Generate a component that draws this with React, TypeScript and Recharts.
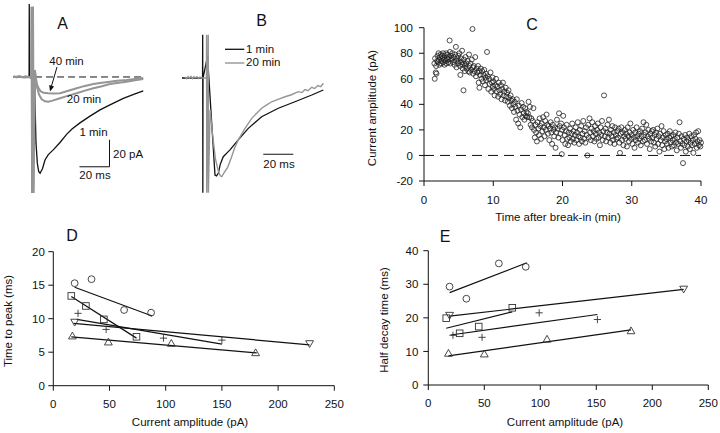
import React from 'react';
import {
    LineChart,
    Line,
    XAxis,
    YAxis,
    ReferenceLine,
    ScatterChart,
    Scatter,
    ComposedChart
} from 'recharts';

const FONT = '"Liberation Sans", Arial, Helvetica, sans-serif';
const INK = '#111';
const GRAY = '#959595';

// ---- A: currents at 1, 20 and 40 min (t in ms, pA) ----
const trA1: number[][] = [
    [-11, 0], [-6, 0.3], [-1, 0], [-0.6, 0], [-0.5, 54], [-0.3, 0], [3, -3], [4, -49], [4.9, -64],
    [5.8, -70], [6.7, -71.3], [8.3, -68], [10, -61.5], [12.2, -57.5], [15.5, -54], [20, -48.5],
    [24.4, -42.5], [28, -38.5], [33.3, -34], [40, -29], [46.7, -24.4], [53.3, -20.7], [62.2, -15.8],
    [70, -12.5], [75.5, -10.3]
];
const trA20: number[][] = [
    [-11, 0.5], [-9, -0.4], [-7, 0.6], [-5, -0.2], [-3, 0.5], [-1, 0], [0.9, 0], [1.1, 52], [1.4, -86],
    [2.0, 52], [2.3, -86], [3.2, 5], [4.5, -7], [6, -13], [7.8, -16.5], [10, -18], [12.2, -18.3],
    [15, -17.5], [20, -15.8], [25, -14], [31.1, -12.1], [36, -10.3], [42.2, -8.4], [48, -6.8],
    [53.3, -5.2], [58, -4.4], [64.4, -3.5], [70, -2.5], [75.5, -1.5]
];
const trA40: number[][] = [
    [-11, 0], [-8, 0.4], [-4, -0.3], [0.9, 0], [1.1, 52], [1.4, -86], [2.0, 52], [2.3, -86], [3.2, 5],
    [4.5, -5], [5.6, -8], [7, -10.5], [9, -11.7], [12.2, -12.1], [16, -12.3], [20, -12.1], [25, -10.4],
    [31.1, -8.4], [36, -6.8], [42.2, -5.2], [48, -4.2], [53.3, -3.5], [58, -2.8], [64.4, -2.2],
    [70, -1.5], [75.5, -0.8]
];

// ---- B: normalised currents, 1 min vs 20 min ----
const trB1: number[][] = [
    [-14, 0], [-0.3, 0], [-0.2, 32], [-0.1, -85], [0, 0], [3, 16], [8, -72], [9, -72.5],
    [10.2, -70.6], [11.5, -64], [13.5, -58.3], [16, -55.5], [18, -53.3], [23.5, -45.9], [30.2, -37.3],
    [39.1, -28.7], [50.2, -22.4], [61.3, -17.6], [72.5, -12.6], [80.2, -8.9]
];
const trB20: number[][] = [
    [-12, 0.8], [-11, -0.5], [-10, 1], [-9, 0], [-8, 1.2], [-7, -0.4], [-6, 0.9], [-5, 0.2], [-4, 1],
    [-3, -0.3], [-2, 0.7], [-1, 0], [2.3, 0], [2.4, 32], [2.5, -85], [3.5, 32], [3.6, -85], [4.7, -23.7],
    [6.7, -45], [8.3, -60], [10.2, -69], [11.5, -72.5], [12.5, -73.1], [14.2, -70], [16.5, -66],
    [19.1, -58.3], [21, -52], [23.5, -45.9], [28, -37.3], [32.5, -29.9], [36, -26], [39.1, -22.4],
    [42, -20.3], [45.8, -17.6], [50, -15.8], [54.7, -13.9], [59, -12.4], [63.5, -10.1], [66, -10.8],
    [68, -8.6], [70, -9.4], [72.5, -6.9], [74.5, -7.8], [76.5, -5.6], [78.5, -6.4], [80.2, -3.9]
];

// ---- C: amplitude vs time after break-in (min, pA) ----
const cAmp: number[][] = [
    [1.5, 72], [1.55, 60], [1.6, 76], [1.7, 65], [1.75, 70], [1.8, 64], [1.9, 74], [1.95, 78],
    [2.0, 73], [2.1, 80], [2.15, 75], [2.2, 71], [2.3, 77], [2.4, 79], [2.45, 74], [2.5, 72], [2.6, 78], [2.7, 76], [2.75, 80], [2.8, 73], [2.9, 75], [2.95, 71],
    [3.0, 78], [3.1, 74], [3.2, 80], [3.25, 72], [3.3, 76], [3.4, 79], [3.5, 75], [3.55, 73], [3.6, 77], [3.7, 90], [3.75, 81], [3.8, 72], [3.9, 78], [3.95, 75],
    [4.0, 76], [4.1, 80], [4.2, 73], [4.3, 77], [4.4, 71], [4.5, 79], [4.6, 85], [4.65, 74], [4.7, 69], [4.8, 76], [4.9, 72], [4.95, 78],
    [5.0, 74], [5.1, 80], [5.2, 70], [5.25, 63], [5.3, 76], [5.4, 73], [5.5, 82], [5.55, 71], [5.6, 68], [5.7, 51], [5.75, 75], [5.8, 72], [5.9, 66], [5.95, 70],
    [6.0, 77], [6.1, 72], [6.2, 68], [6.3, 74], [6.4, 66], [6.5, 79], [6.55, 70], [6.6, 65], [6.7, 72], [6.8, 67], [6.9, 75], [7.0, 99], [7.05, 69],
    [7.1, 64], [7.2, 70], [7.3, 66], [7.4, 77], [7.5, 62], [7.6, 68], [7.7, 65], [7.8, 70], [7.9, 57], [7.95, 66],
    [8.0, 53], [8.1, 63], [8.2, 68], [8.3, 60], [8.4, 66], [8.5, 58], [8.6, 63], [8.7, 67], [8.8, 55], [8.9, 61], [8.95, 64],
    [9.0, 59], [9.1, 81], [9.2, 62], [9.3, 52], [9.4, 60], [9.5, 56], [9.6, 65], [9.7, 50], [9.8, 57], [9.9, 61], [9.95, 54],
    [10.0, 58], [10.1, 52], [10.2, 47], [10.3, 55], [10.4, 60], [10.5, 50], [10.6, 54], [10.7, 46], [10.8, 57], [10.9, 51],
    [11.0, 48], [11.1, 55], [11.2, 44], [11.3, 52], [11.4, 57], [11.5, 47], [11.6, 50], [11.7, 43], [11.8, 53], [11.9, 46],
    [12.0, 49], [12.1, 42], [12.2, 51], [12.3, 45], [12.4, 39], [12.5, 47], [12.6, 43], [12.7, 37], [12.8, 44], [12.9, 40],
    [13.0, 34], [13.1, 42], [13.2, 38], [13.3, 28], [13.4, 44], [13.5, 35], [13.6, 25], [13.7, 39], [13.8, 32], [13.9, 22],
    [14.0, 36], [14.1, 41], [14.2, 30], [14.3, 38], [14.4, 33], [14.5, 28], [14.6, 37], [14.7, 31], [14.8, 34], [14.9, 30],
    [15.0, 33], [15.1, 42], [15.2, 30], [15.3, 38], [15.4, 24], [15.5, 29], [15.6, 22], [15.7, 27], [15.8, 37], [15.9, 20],
    [16.0, 14], [16.1, 24], [16.2, 18], [16.3, 11], [16.4, 26], [16.5, 21], [16.6, 16], [16.7, 29], [16.8, 23], [16.9, 13],
    [17.0, 25], [17.1, 19], [17.2, 30], [17.3, 22], [17.4, 15], [17.5, 27], [17.6, 20], [17.7, 32], [17.8, 24], [17.9, 17],
    [18.0, 23], [18.1, 12], [18.2, 21], [18.3, 26], [18.4, 18], [18.5, 9], [18.6, 24], [18.7, 20], [18.8, 15], [18.9, 22],
    [19.0, 6], [19.1, 18], [19.2, 28], [19.3, 21], [19.4, 14], [19.5, 33], [19.6, 23], [19.7, 17], [19.8, 25], [19.9, 1], [19.95, 20],
    [20.0, 12], [20.1, 31], [20.2, 22], [20.3, 16], [20.4, 9], [20.5, 19], [20.6, 24], [20.7, 13], [20.8, 8], [20.9, 18],
    [21.0, 14], [21.1, 21], [21.2, 11], [21.3, 17], [21.4, 25], [21.5, 13], [21.6, 19], [21.7, 10], [21.8, 16], [21.9, 22],
    [22.0, 12], [22.1, 18], [22.2, 26], [22.3, 15], [22.4, 9], [22.5, 20], [22.6, 14], [22.7, 23], [22.8, 11], [22.9, 17],
    [23.0, 27], [23.1, 13], [23.2, 19], [23.3, 10], [23.4, 22], [23.5, 16], [23.6, 0], [23.7, 24], [23.8, 14], [23.9, 29],
    [24.0, 18], [24.1, 12], [24.2, 21], [24.3, 26], [24.4, 15], [24.5, 19], [24.6, 11], [24.7, 23], [24.8, 17], [24.9, 13],
    [25.0, 20], [25.1, 25], [25.2, 14], [25.3, 18], [25.4, 8], [25.5, 22], [25.6, 16], [25.7, 27], [25.8, 12], [25.9, 19],
    [26.0, 47], [26.1, 15], [26.2, 21], [26.3, 11], [26.4, 18], [26.5, 24], [26.6, 14], [26.7, 28], [26.8, 17], [26.9, 10],
    [27.0, 20], [27.1, 15], [27.2, 23], [27.3, 12], [27.4, 18], [27.5, 9], [27.6, 22], [27.7, 16], [27.8, 13], [27.9, 19],
    [28.0, 14], [28.1, 21], [28.2, 10], [28.3, 2], [28.4, 17], [28.5, 22], [28.6, 12], [28.7, 18], [28.8, 8], [28.9, 15],
    [29.0, 20], [29.1, 13], [29.2, 17], [29.3, 7], [29.4, 22], [29.5, 15], [29.6, 11], [29.7, 18], [29.8, 25], [29.9, 13],
    [30.0, 16], [30.1, 9], [30.2, 20], [30.3, 14], [30.4, 6], [30.5, 18], [30.6, 12], [30.7, 22], [30.8, 15], [30.9, 10],
    [31.0, 17], [31.1, 13], [31.2, 19], [31.3, 8], [31.4, 15], [31.5, 21], [31.6, 11], [31.7, 26], [31.8, 16], [31.9, 12],
    [32.0, 18], [32.1, 24], [32.2, 9], [32.3, 15], [32.4, 20], [32.5, 13], [32.6, 5], [32.7, 17], [32.8, 11], [32.9, 19],
    [33.0, 14], [33.1, 20], [33.2, 10], [33.3, 16], [33.4, 7], [33.5, 18], [33.6, 13], [33.7, 21], [33.8, 9], [33.9, 15],
    [34.0, 3], [34.1, 17], [34.2, 12], [34.3, 23], [34.4, 8], [34.5, 14], [34.6, 19], [34.7, 5], [34.8, 11], [34.9, 16],
    [35.0, 13], [35.1, 9], [35.2, 17], [35.3, 6], [35.4, 14], [35.5, 19], [35.6, 10], [35.7, 15], [35.8, 7], [35.9, 12],
    [36.0, 16], [36.1, 8], [36.2, 13], [36.3, 18], [36.4, 10], [36.5, 4], [36.6, 14], [36.7, 9], [36.8, 17], [36.9, 26],
    [37.0, 11], [37.1, 6], [37.2, 15], [37.3, 9], [37.4, -6], [37.5, 13], [37.6, 8], [37.7, 16], [37.8, 3], [37.9, 11],
    [38.0, 14], [38.1, 7], [38.2, 12], [38.3, 17], [38.4, 5], [38.5, 10], [38.6, 15], [38.7, 8], [38.8, 12], [38.9, 2],
    [39.0, 16], [39.1, 9], [39.2, 13], [39.3, 18], [39.4, 6], [39.5, 11], [39.6, 19], [39.7, 8], [39.8, 12], [39.9, 7], [40.0, 10]
];
const cTicksX = [0, 10, 20, 30, 40];
const cTicksY = [-20, 0, 20, 40, 60, 80, 100];

// ---- D / E: per-cell points (amplitude pA, ms) and fitted line endpoints ----
const ampTicks = [0, 50, 100, 150, 200, 250];
const dTicksY = [0, 5, 10, 15, 20];
const eTicksY = [0, 10, 20, 30, 40];

const dCircle = [[19, 15.3], [34, 15.9], [63, 11.3], [87, 10.9]];
const dSquare = [[16, 13.4], [29, 11.9], [45, 9.9], [74, 7.3]];
const dPlus = [[22, 10.8], [47, 8.4], [98, 7.1], [150, 6.8]];
const dDown = [[19, 9.5], [228, 6.3]];
const dUp = [[17, 7.4], [49, 6.5], [105, 6.3], [180, 4.9]];
const dFits = [
    [[19, 14.7], [88, 10.4]],
    [[16, 13.3], [74, 7.1]],
    [[21, 9.9], [150, 6.2]],
    [[18, 9.3], [228, 6.1]],
    [[16, 7.3], [181, 4.9]]
];

const eCircle = [[19, 29.3], [34, 25.7], [63, 36.2], [87, 35.2]];
const eSquare = [[16, 19.9], [28, 15.4], [45, 17.4], [75, 23]];
const ePlus = [[22, 14.8], [48, 14.2], [99, 21.5], [151, 19.5]];
const eDown = [[19, 20.8], [228, 28.6]];
const eUp = [[18, 9.4], [50, 9.2], [106, 13.6], [181, 16.1]];
const eFits = [
    [[19, 27.5], [88, 36.4]],
    [[16, 16.9], [75, 21.8]],
    [[20, 14.9], [151, 21]],
    [[19, 20.5], [228, 28.5]],
    [[18, 8.7], [181, 16.4]]
];

const tv = (arr: number[][]) => arr.map(([t, v]) => ({ t, v }));
const xy = (arr: number[][]) => arr.map(([x, y]) => ({ x, y }));

const MK = '#333';
const ring = (p: any) => <circle cx={p.cx} cy={p.cy} r={2.5} fill="none" stroke="#222" strokeWidth={0.8} />;
const mCircle = (p: any) => <circle cx={p.cx} cy={p.cy} r={3.4} fill="none" stroke={MK} strokeWidth={0.9} />;
const mSquare = (p: any) => <rect x={p.cx - 3.3} y={p.cy - 3.3} width={6.6} height={6.6} fill="none" stroke={MK} strokeWidth={0.9} />;
const mPlus = (p: any) => (
    <path d={`M${p.cx - 3.6},${p.cy}H${p.cx + 3.6}M${p.cx},${p.cy - 3.6}V${p.cy + 3.6}`} stroke={MK} strokeWidth={0.9} />
);
const mUp = (p: any) => (
    <path d={`M${p.cx},${p.cy - 4}L${p.cx + 3.9},${p.cy + 2.8}L${p.cx - 3.9},${p.cy + 2.8}Z`} fill="none" stroke={MK} strokeWidth={0.9} />
);
const mDown = (p: any) => (
    <path d={`M${p.cx},${p.cy + 4}L${p.cx + 3.9},${p.cy - 2.8}L${p.cx - 3.9},${p.cy - 2.8}Z`} fill="none" stroke={MK} strokeWidth={0.9} />
);

const tickStyle = { fontSize: 11.5, fill: INK, fontFamily: FONT };
const axisStroke = { stroke: INK, strokeWidth: 1 };

const Txt: React.FC<{ x: number; y: number; size?: number; align?: 'left' | 'center'; rotate?: boolean; children: React.ReactNode }> = ({
    x, y, size = 11.5, align = 'center', rotate = false, children
}) => (
    <div
        style={{
            position: 'absolute',
            left: x,
            top: y,
            fontSize: size,
            lineHeight: 1,
            whiteSpace: 'nowrap',
            color: INK,
            fontFamily: FONT,
            transform: `translate(${align === 'center' ? '-50%' : '0'},-50%)${rotate ? ' rotate(-90deg)' : ''}`
        }}
    >
        {children}
    </div>
);

const Place: React.FC<{ left: number; top: number; children: React.ReactNode }> = ({ left, top, children }) => (
    <div style={{ position: 'absolute', left, top }}>{children}</div>
);

const AmpPanel: React.FC<{
    sets: number[][][];
    fits: number[][][];
    yMax: number;
    yTicks: number[];
    margin: { top: number; right: number; bottom: number; left: number };
    yTickMargin: number;
}> = ({ sets, fits, yMax, yTicks, margin, yTickMargin }) => {
    const shapes = [mCircle, mSquare, mPlus, mDown, mUp];
    return (
        <ComposedChart width={360} height={203} margin={margin}>
            <XAxis type="number" dataKey="x" domain={[0, 250]} ticks={ampTicks} interval={0} height={30}
                tickSize={5} tickMargin={9} tick={tickStyle} axisLine={axisStroke} tickLine={axisStroke} />
            <YAxis type="number" dataKey="y" domain={[0, yMax]} ticks={yTicks} interval={0} width={30}
                tickSize={5} tickMargin={yTickMargin} tick={tickStyle} axisLine={axisStroke} tickLine={axisStroke} />
            {fits.map((f, i) => (
                <Line key={'f' + i} data={xy(f)} dataKey="y" stroke={INK} strokeWidth={1.2} dot={false}
                    type="linear" isAnimationActive={false} />
            ))}
            {sets.map((s, i) => (
                <Scatter key={'s' + i} data={xy(s)} shape={shapes[i]} isAnimationActive={false} />
            ))}
        </ComposedChart>
    );
};

export default function App() {
    return (
        <div style={{ position: 'absolute', left: 0, top: 0, width: 720, height: 433, background: '#fff', overflow: 'hidden' }}>
            {/* A */}
            <Place left={0} top={0}>
                <LineChart width={180} height={200} margin={{ top: 0, right: 0, bottom: 0, left: 0 }}>
                    <XAxis type="number" dataKey="t" domain={[-20, 100]} hide allowDataOverflow />
                    <YAxis type="number" domain={[-91.1, 57]} hide allowDataOverflow />
                    <ReferenceLine segment={[{ x: -11.3, y: 0 }, { x: 75.5, y: 0 }]} stroke={INK} strokeDasharray="7 4" strokeWidth={1} />
                    <Line data={tv(trA1)} dataKey="v" stroke={INK} strokeWidth={1.3} dot={false} type="linear" isAnimationActive={false} />
                    <Line data={tv(trA20)} dataKey="v" stroke={GRAY} strokeWidth={2} dot={false} type="linear" isAnimationActive={false} />
                    <Line data={tv(trA40)} dataKey="v" stroke={GRAY} strokeWidth={2} dot={false} type="linear" isAnimationActive={false} />
                    <ReferenceLine segment={[{ x: 33, y: -66.5 }, { x: 53, y: -66.5 }]} stroke={INK} strokeWidth={1} />
                    <ReferenceLine segment={[{ x: 53, y: -66.5 }, { x: 53, y: -46.5 }]} stroke={INK} strokeWidth={1} />
                </LineChart>
            </Place>
            <svg style={{ position: 'absolute', left: 0, top: 0 }} width={120} height={120}>
                <line x1={57} y1={67} x2={51.5} y2={86} stroke={INK} strokeWidth={1} />
                <path d="M50,91.5L54.1,86.4L49.2,85Z" fill={INK} />
            </svg>
            <Txt x={62.5} y={24} size={16}>A</Txt>
            <Txt x={66.5} y={62}>40 min</Txt>
            <Txt x={84} y={100}>20 min</Txt>
            <Txt x={93.5} y={133}>1 min</Txt>
            <Txt x={113} y={155} align="left">20 pA</Txt>
            <Txt x={95} y={176}>20 ms</Txt>

            {/* B */}
            <Place left={180} top={0}>
                <LineChart width={160} height={200} margin={{ top: 0, right: 0, bottom: 0, left: 0 }}>
                    <XAxis type="number" dataKey="t" domain={[-15.33, 91.33]} hide allowDataOverflow />
                    <YAxis type="number" domain={[-90.4, 57.8]} hide allowDataOverflow />
                    <Line data={tv(trB1)} dataKey="v" stroke={INK} strokeWidth={1.3} dot={false} type="linear" isAnimationActive={false} />
                    <Line data={tv(trB20)} dataKey="v" stroke={GRAY} strokeWidth={1.4} dot={false} type="linear" isAnimationActive={false} />
                    <ReferenceLine segment={[{ x: 40.2, y: -56.5 }, { x: 60.2, y: -56.5 }]} stroke={INK} strokeWidth={1} />
                </LineChart>
            </Place>
            <svg style={{ position: 'absolute', left: 220, top: 40 }} width={30} height={30}>
                <line x1={5} y1={9.3} x2={24.3} y2={9.3} stroke={INK} strokeWidth={1.3} />
                <line x1={5} y1={23} x2={24.3} y2={23} stroke={GRAY} strokeWidth={1.4} />
            </svg>
            <Txt x={261.7} y={21} size={16}>B</Txt>
            <Txt x={246} y={50} align="left">1 min</Txt>
            <Txt x={246} y={63} align="left">20 min</Txt>
            <Txt x={279} y={165}>20 ms</Txt>

            {/* C */}
            <Place left={340} top={0}>
                <ScatterChart width={380} height={230} margin={{ top: 27.7, right: 19, bottom: 19, left: 44 }}>
                    <XAxis type="number" dataKey="x" domain={[0, 40]} ticks={cTicksX} interval={0} height={30}
                        tickSize={5} tickMargin={10} tick={tickStyle} axisLine={axisStroke} tickLine={axisStroke} />
                    <YAxis type="number" dataKey="y" domain={[-20, 100]} ticks={cTicksY} interval={0} width={40}
                        tickSize={5} tickMargin={6} tick={tickStyle} axisLine={axisStroke} tickLine={axisStroke} />
                    <ReferenceLine y={0} stroke={INK} strokeDasharray="10 6" strokeWidth={1} />
                    <Scatter data={xy(cAmp)} shape={ring} isAnimationActive={false} />
                </ScatterChart>
            </Place>
            <Txt x={532} y={25} size={16}>C</Txt>
            <Txt x={373} y={108} rotate>Current amplitude (pA)</Txt>
            <Txt x={558} y={218}>Time after break-in (min)</Txt>

            {/* D */}
            <Place left={0} top={230}>
                <AmpPanel sets={[dCircle, dSquare, dPlus, dDown, dUp]} fits={dFits} yMax={20} yTicks={dTicksY}
                    margin={{ top: 21.7, right: 25.7, bottom: 17.3, left: 23.3 }} yTickMargin={3.5} />
            </Place>
            <Txt x={72} y={236} size={16}>D</Txt>
            <Txt x={9} y={321} rotate>Time to peak (ms)</Txt>
            <Txt x={190} y={423}>Current amplitude (pA)</Txt>

            {/* E */}
            <Place left={360} top={230}>
                <AmpPanel sets={[eCircle, eSquare, ePlus, eDown, eUp]} fits={eFits} yMax={40} yTicks={eTicksY}
                    margin={{ top: 20.7, right: 11.7, bottom: 18, left: 38.3 }} yTickMargin={5} />
            </Place>
            <Txt x={445} y={237} size={16}>E</Txt>
            <Txt x={385} y={320} rotate>Half decay time (ms)</Txt>
            <Txt x={565} y={423}>Current amplitude (pA)</Txt>
        </div>
    );
}
